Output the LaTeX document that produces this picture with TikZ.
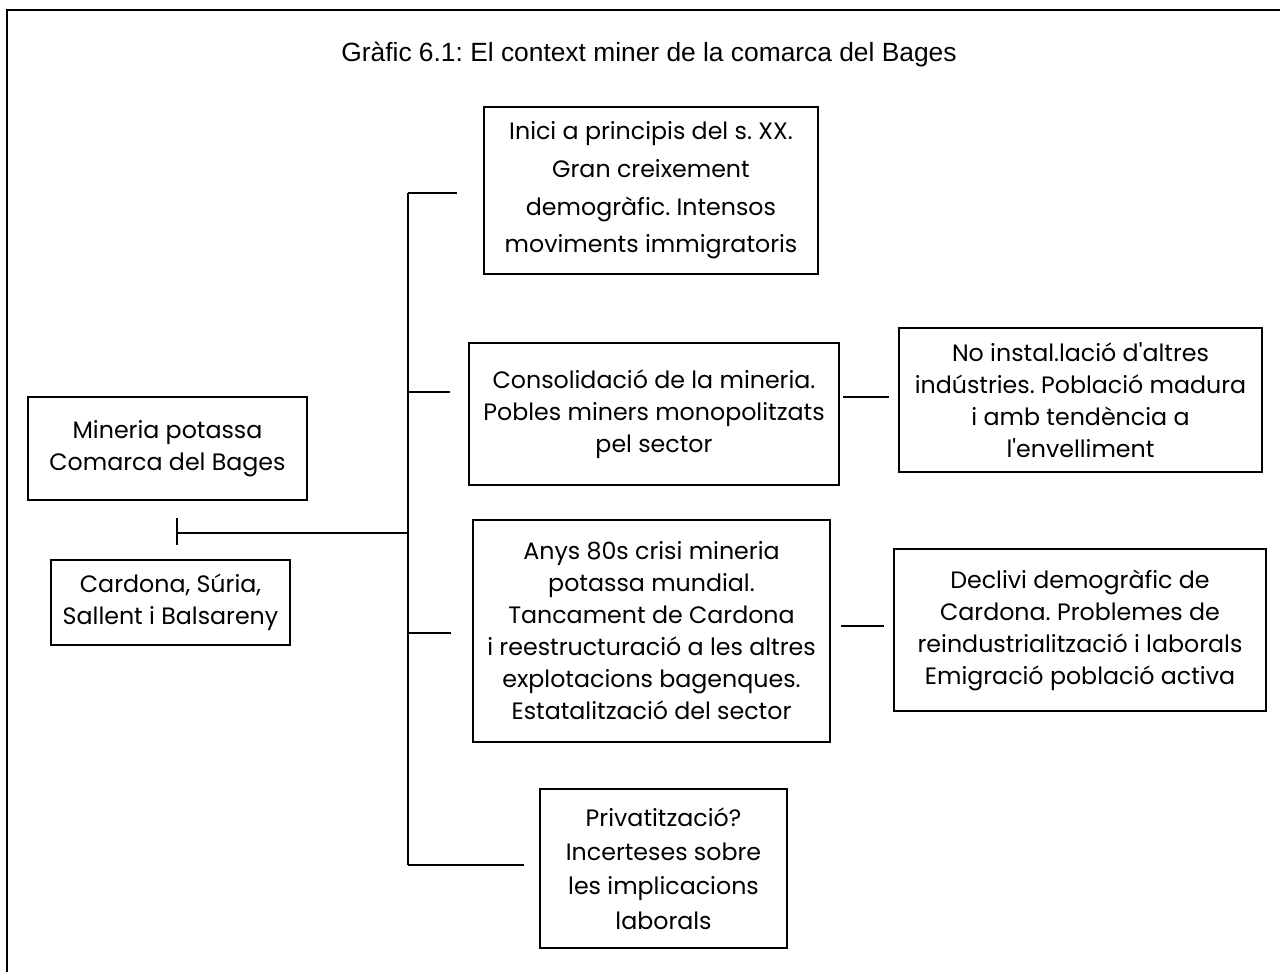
\documentclass[tikz,border=0pt]{standalone}
\usepackage{fontspec}
\setmainfont{Poppins}
\newfontfamily\titlefont{Liberation Sans}
\usetikzlibrary{positioning}
\frenchspacing
\newcommand{\boxfont}{\fontsize{13.5}{18.2}\selectfont}
\tikzset{
    mbox/.style={draw, line width=0.8pt, inner sep=0pt, align=center,
                 font=\boxfont, minimum width=#1},
    spaced/.style={font=\fontsize{13.5}{#1}\selectfont},
    link/.style={line width=0.8pt},
}

\begin{document}
\begin{tikzpicture}[x=0.02cm, y=-0.02cm]
    \useasboundingbox (0,0) rectangle (1280,972);
    % frame of the scanned page
    \draw[line width=1.1pt] (7,972) -- (7,10) -- (1280,10);

    \node[font=\titlefont\fontsize{15}{18}\selectfont] (title) at (649,55)
        {Gràfic 6.1: El context miner de la comarca del Bages};

    % left column
    \node[mbox=5.58cm, minimum height=2.06cm] (mineria) at (167.5,448.5)
        {Mineria potassa\\Comarca del Bages};
    \node[mbox=4.78cm, minimum height=1.70cm] (cardona) at (170.5,602.5)
        {Cardona, Súria,\\Sallent i Balsareny};

    % middle column
    \node[mbox=6.68cm, spaced=21.4pt, minimum height=3.34cm] (inici) at (651,190.5)
        {Inici a principis del s. XX.\\Gran creixement\\demogràfic. Intensos\\moviments immigratoris};
    \node[mbox=7.40cm, minimum height=2.84cm] (consol) at (654,414)
        {Consolidació de la mineria.\\Pobles miners monopolitzats\\pel sector};
    \node[mbox=7.14cm, minimum height=4.44cm] (crisi) at (651.5,631)
        {Anys 80s crisi mineria\\potassa mundial.\\Tancament de Cardona\\i reestructuració a les altres\\explotacions bagenques.\\Estatalització del sector};
    \node[mbox=4.94cm, spaced=19.6pt, minimum height=3.18cm] (privat) at (663.5,868.5)
        {Privatització?\\Incerteses sobre\\les implicacions\\laborals};

    % right column
    \node[mbox=7.26cm, minimum height=2.88cm] (noinst) at (1080.5,400)
        {No instal.lació d\textquotesingle altres\\indústries. Població madura\\i amb tendència a\\l\textquotesingle envelliment};
    \node[mbox=7.44cm, minimum height=3.24cm] (declivi) at (1080,630)
        {Declivi demogràfic de\\Cardona. Problemes de\\reindustrialització i laborals\\Emigració població activa};

    % tree
    \coordinate (jn) at (177,533);
    \coordinate (tk1) at (408,193);
    \coordinate (tk2) at (408,392);
    \coordinate (tk3) at (408,633);
    \coordinate (tk4) at (408,865);

    \draw[link, shorten <=10pt, shorten >=8pt] (jn |- mineria.south) -- (jn |- cardona.north);
    \draw[link] (jn) -- (jn -| tk1);
    \draw[link] (tk1) -- (tk4);
    \draw[link, shorten >=0.52cm] (tk1) -- (tk1 -| inici.west);
    \draw[link, shorten >=0.36cm] (tk2) -- (tk2 -| consol.west);
    \draw[link, shorten >=0.42cm] (tk3) -- (tk3 -| crisi.west);
    \draw[link, shorten >=0.30cm] (tk4) -- (tk4 -| privat.west);

    \draw[link, shorten <=2pt, shorten >=0.18cm] (consol.east |- 0,397) -- (noinst.west |- 0,397);
    \draw[link, shorten <=0.2cm, shorten >=0.18cm] (crisi.east |- 0,626) -- (declivi.west |- 0,626);
\end{tikzpicture}
\end{document}
